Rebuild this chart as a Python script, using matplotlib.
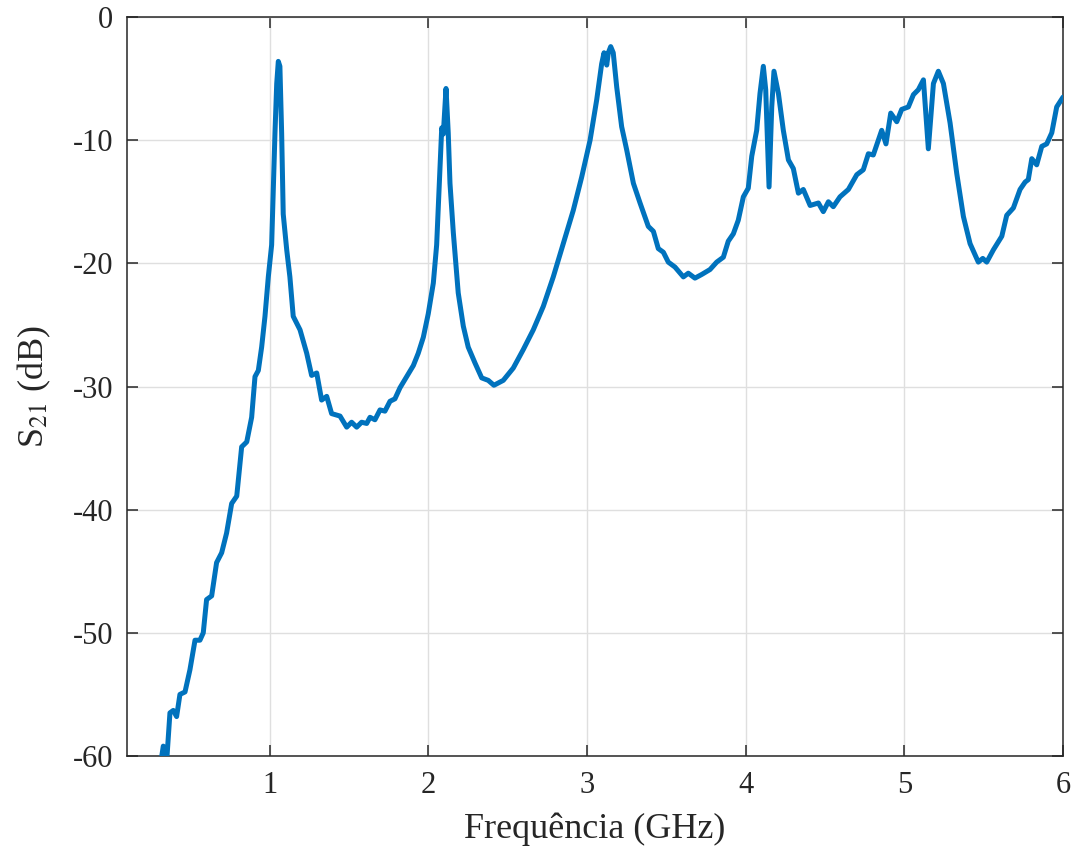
import numpy as np
import matplotlib
matplotlib.use("Agg")
import matplotlib.pyplot as plt

# S21 curve (GHz, dB)
freq = [0.308, 0.329, 0.350, 0.371, 0.392, 0.413, 0.434, 0.466, 0.497, 0.529,
        0.560, 0.581, 0.602, 0.634, 0.665, 0.697, 0.728, 0.760, 0.792, 0.823,
        0.855, 0.886, 0.907, 0.928, 0.949, 0.970, 0.991, 1.012, 1.033, 1.044,
        1.054, 1.064, 1.075, 1.085, 1.107, 1.127, 1.148, 1.191, 1.233, 1.264,
        1.296, 1.327, 1.359, 1.390, 1.443, 1.485, 1.516, 1.548, 1.579, 1.611,
        1.632, 1.663, 1.695, 1.726, 1.758, 1.789, 1.821, 1.863, 1.905, 1.936,
        1.968, 1.999, 2.031, 2.052, 2.073, 2.084, 2.094, 2.111, 2.125, 2.136,
        2.157, 2.188, 2.220, 2.251, 2.294, 2.336, 2.377, 2.413, 2.472, 2.535,
        2.598, 2.661, 2.724, 2.787, 2.850, 2.913, 2.966, 3.019, 3.061, 3.092,
        3.107, 3.124, 3.134, 3.149, 3.165, 3.187, 3.218, 3.250, 3.292, 3.334,
        3.386, 3.418, 3.449, 3.481, 3.512, 3.554, 3.607, 3.638, 3.680, 3.723,
        3.775, 3.817, 3.859, 3.890, 3.922, 3.953, 3.985, 4.016, 4.038, 4.069,
        4.090, 4.111, 4.126, 4.147, 4.164, 4.178, 4.206, 4.237, 4.269, 4.300,
        4.332, 4.363, 4.406, 4.458, 4.489, 4.521, 4.552, 4.594, 4.647, 4.700,
        4.741, 4.773, 4.804, 4.857, 4.884, 4.914, 4.952, 4.983, 5.025, 5.057,
        5.088, 5.120, 5.151, 5.183, 5.214, 5.246, 5.288, 5.330, 5.372, 5.414,
        5.466, 5.494, 5.519, 5.561, 5.614, 5.645, 5.687, 5.729, 5.761, 5.781,
        5.803, 5.834, 5.866, 5.897, 5.929, 5.960, 6.000]
s21 = [-61.0, -59.2, -60.5, -56.5, -56.3, -56.8, -55.0, -54.8, -53.0, -50.6,
       -50.6, -50.0, -47.3, -47.0, -44.3, -43.5, -41.9, -39.5, -38.9, -34.9,
       -34.5, -32.5, -29.2, -28.7, -26.8, -24.3, -21.1, -18.5, -9.4, -5.4,
       -3.6, -4.0, -9.4, -16.0, -18.9, -21.1, -24.3, -25.4, -27.3, -29.1,
       -28.9, -31.1, -30.8, -32.2, -32.4, -33.3, -32.9, -33.3, -32.9, -33.0,
       -32.5, -32.7, -31.9, -32.0, -31.2, -31.0, -30.1, -29.2, -28.3, -27.3,
       -26.0, -24.1, -21.6, -18.5, -12.2, -9.0, -9.5, -5.8, -9.4, -13.5,
       -17.5, -22.4, -25.1, -26.8, -28.1, -29.3, -29.5, -29.9, -29.5, -28.5,
       -27.0, -25.4, -23.5, -21.1, -18.4, -15.7, -13.0, -10.0, -6.7, -3.8,
       -2.9, -3.9, -2.9, -2.4, -2.9, -5.7, -8.9, -10.8, -13.5, -15.1,
       -17.0, -17.4, -18.8, -19.1, -19.9, -20.3, -21.1, -20.8, -21.2, -20.9,
       -20.5, -19.9, -19.5, -18.2, -17.6, -16.5, -14.6, -13.9, -11.3, -9.2,
       -6.2, -4.0, -5.9, -13.8, -7.3, -4.4, -6.2, -9.2, -11.6, -12.3,
       -14.3, -14.0, -15.3, -15.1, -15.8, -15.0, -15.4, -14.6, -14.0, -12.8,
       -12.4, -11.1, -11.2, -9.2, -10.3, -7.8, -8.5, -7.5, -7.3, -6.3,
       -5.9, -5.1, -10.7, -5.4, -4.4, -5.4, -8.6, -12.7, -16.2, -18.4,
       -19.9, -19.6, -19.9, -18.9, -17.8, -16.1, -15.5, -14.0, -13.4, -13.2,
       -11.5, -12.0, -10.5, -10.3, -9.4, -7.3, -6.5]

xticks = [1, 2, 3, 4, 5, 6]
yticks = [0, -10, -20, -30, -40, -50, -60]

plt.rcParams['font.family'] = ['Liberation Serif', 'DejaVu Serif']
plt.rcParams['mathtext.fontset'] = 'stix'
plt.rcParams['axes.unicode_minus'] = False

fig = plt.figure(figsize=(10.74, 8.52), dpi=100)
ax = fig.add_axes([0.1182, 0.1127, 0.8716, 0.8673])

ax.plot(freq, s21, color='#0072BD', lw=3.6, solid_joinstyle='round',
        solid_capstyle='round', zorder=3)

ax.set_xlim(0.1, 6)
ax.set_ylim(-60, 0)
ax.set_xticks(xticks)
ax.set_yticks(yticks)
ax.set_xticklabels([str(v) for v in xticks])
ax.set_yticklabels([str(v) for v in yticks])

ax.grid(True, color='#DFDFDF', lw=1.0)
ax.set_axisbelow(True)
for sp in ax.spines.values():
    sp.set_color('#262626')
    sp.set_linewidth(1.1)
ax.tick_params(direction='in', length=8, width=1.1, color='#262626',
               top=True, right=True, labelsize=22, labelcolor='#262626')
ax.tick_params(axis='x', pad=11)
ax.tick_params(axis='y', pad=10)

ax.set_xlabel('Frequência (GHz)', fontsize=26, color='#262626', va='center')
ax.set_ylabel(r'S$_{21}$ (dB)', fontsize=26, color='#262626', va='center')
ax.xaxis.set_label_coords(0.5, -0.099)
ax.yaxis.set_label_coords(-0.099, 0.5)

fig.savefig('out.png', dpi=100)
